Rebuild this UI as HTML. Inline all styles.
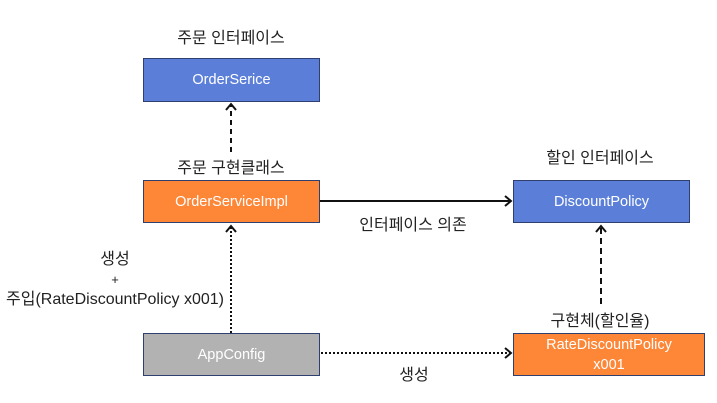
<!DOCTYPE html>
<html><head><meta charset="utf-8"><style>
body{margin:0;width:717px;height:403px;background:#fff;position:relative;overflow:hidden;font-family:"Liberation Sans","Noto Sans CJK KR",sans-serif}
.b{position:absolute;box-sizing:border-box;border:1.5px solid #2f4070;color:#fff;font-size:14.5px;display:flex;align-items:center;justify-content:center;text-align:center;line-height:20px}
.bl{background:#5b7fd8}.or{background:#fd8637}.gr{background:#b2b2b2}
.t{position:absolute;font-size:16px;color:#222;white-space:nowrap;transform:translateX(-50%);text-align:center}
</style></head><body>
<div class="t" style="left:231px;top:24px">주문 인터페이스</div>
<div class="b bl" style="left:143px;top:58px;width:177px;height:44px">OrderSerice</div>
<div class="t" style="left:231px;top:154px">주문 구현클래스</div>
<div class="b or" style="left:143px;top:180px;width:177px;height:43px">OrderServiceImpl</div>
<div class="t" style="left:600px;top:144px">할인 인터페이스</div>
<div class="b bl" style="left:513px;top:180px;width:177px;height:43px">DiscountPolicy</div>
<div class="t" style="left:413px;top:211px">인터페이스 의존</div>
<div class="t" style="left:115px;top:250px;line-height:20px">생성<br><span style="font-size:13px">+</span><br>주입(RateDiscountPolicy x001)</div>
<div class="t" style="left:600px;top:307px">구현체(할인율)</div>
<div class="b gr" style="left:143px;top:333px;width:177px;height:43px">AppConfig</div>
<div class="b or" style="left:513px;top:333px;width:192px;height:43px">RateDiscountPolicy<br>x001</div>
<div class="t" style="left:414px;top:361px">생성</div>
<svg width="717" height="403" style="position:absolute;left:0;top:0">
<g stroke="#111" stroke-width="2" fill="none">
<line x1="231" y1="152" x2="231" y2="105" stroke-dasharray="5,4"/>
<polyline points="226,110 231,104 236,110"/>
<line x1="320" y1="201" x2="511" y2="201"/>
<polyline points="505,196 511,201 505,206"/>
<line x1="601" y1="304" x2="601" y2="227" stroke-dasharray="6,4"/>
<polyline points="596,232 601,226 606,232"/>
<line x1="231" y1="333" x2="231" y2="227" stroke-dasharray="2,2"/>
<polyline points="226,232 231,226 236,232"/>
<line x1="321" y1="353" x2="510" y2="353" stroke-dasharray="2,2"/>
<polyline points="505,348 511,353 505,358"/>
</g></svg>
</body></html>
